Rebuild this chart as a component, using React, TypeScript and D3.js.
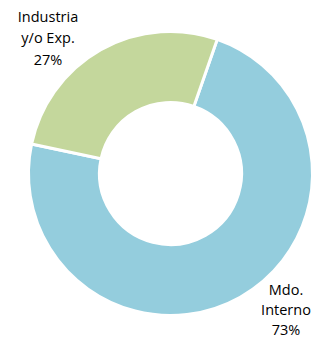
import React from "react";
import * as d3 from "d3";

const categories = ["Mdo. Interno", "Industria y/o Exp."];
const values = [73, 27];
const colors = ["#94CDDD", "#C4D79C"];
const labelLines = [["Mdo.", "Interno", "73%"], ["Industria", "y/o Exp.", "27%"]];

export default function App() {
  const W = 318, H = 340;
  const cx = 170.5, cy = 173.5, rOuter = 142, rInner = 71;
  const start = (19.2 * Math.PI) / 180;
  const pie = d3.pie<number>().sort(null).value((d) => d).startAngle(start).endAngle(start + 2 * Math.PI);
  const arcs = pie(values);
  const arc = d3.arc<d3.PieArcDatum<number>>().innerRadius(rInner).outerRadius(rOuter);
  const labelPos = [
    { x: 286, y: 295, dy: 20 },
    { x: 48, y: 22, dy: 21.3 },
  ];
  return (
    <svg width={W} height={H} style={{ position: "absolute", left: 0, top: 0 }} fontFamily="'Open Sans', sans-serif">
      <g transform={`translate(${cx},${cy})`}>
        {arcs.map((a, i) => (
          <path key={categories[i]} d={arc(a) || ""} fill={colors[i]} stroke="#fff" strokeWidth={3} />
        ))}
      </g>
      {labelLines.map((lines, i) => (
        <text key={i} x={labelPos[i].x} y={labelPos[i].y} textAnchor="middle" fontSize={14.5} fill="#000">
          {lines.map((l, j) => (
            <tspan key={j} x={labelPos[i].x} dy={j === 0 ? 0 : labelPos[i].dy}>{l}</tspan>
          ))}
        </text>
      ))}
    </svg>
  );
}
